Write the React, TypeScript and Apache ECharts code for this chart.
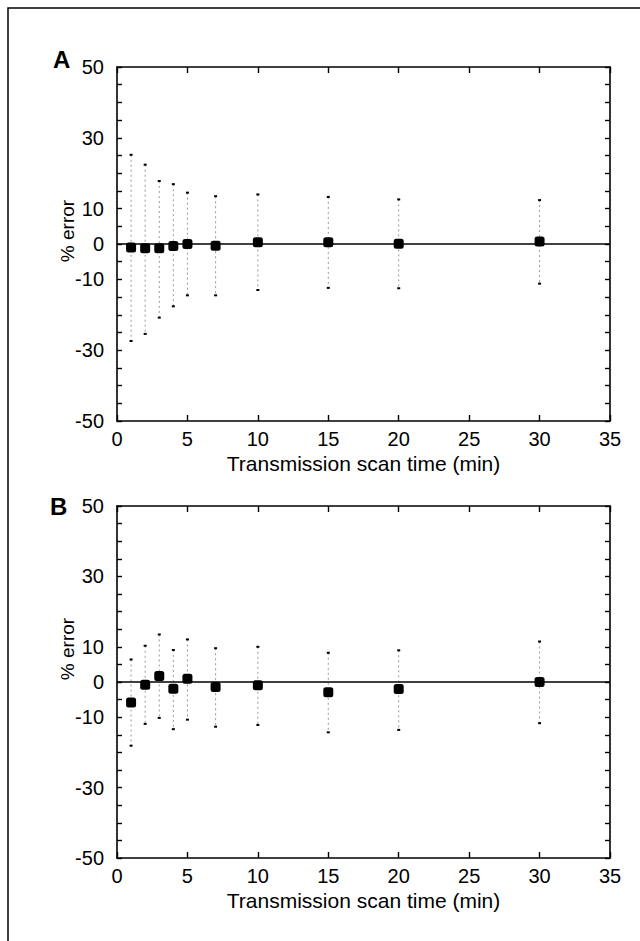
import React, { useEffect, useRef } from "react";
import * as echarts from "echarts";

const xTimes = [1, 2, 3, 4, 5, 7, 10, 15, 20, 30];
const meanA = [-1.0, -1.2, -1.2, -0.6, 0.0, -0.5, 0.5, 0.5, 0.1, 0.7];
const upperA = [25.2, 22.4, 17.8, 16.9, 14.5, 13.5, 14.0, 13.3, 12.6, 12.4];
const lowerA = [-27.4, -25.4, -20.8, -17.6, -14.5, -14.5, -13.0, -12.4, -12.5, -11.2];
const meanB = [-5.8, -0.8, 1.7, -1.9, 0.9, -1.4, -0.9, -2.9, -2.0, 0.0];
const upperB = [6.4, 10.3, 13.5, 9.1, 12.1, 9.6, 10.0, 8.3, 9.0, 11.5];
const lowerB = [-18.1, -11.9, -10.2, -13.4, -10.7, -12.7, -12.2, -14.3, -13.6, -11.7];
const yTickLabels = [50, 30, 10, 0, -10, -30, -50];
const panelLetters = ["A", "B"];
const xTitle = "Transmission scan time (min)";
const yTitle = "% error";

const FONT = "'Liberation Sans', Arial, Helvetica, sans-serif";

export default function App() {
  const ref = useRef<HTMLDivElement>(null);
  useEffect(() => {
    if (!ref.current) return;
    const chart = echarts.init(ref.current, undefined, { renderer: "svg" });
    const grids = [
      { left: 117, top: 67, width: 493, height: 354 },
      { left: 117, top: 506, width: 493, height: 352 },
    ];
    const axisLine = { show: true, lineStyle: { color: "#000", width: 1.6 } };
    const xAxes: any[] = [];
    const yAxes: any[] = [];
    const series: any[] = [];
    const panels = [
      { mean: meanA, upper: upperA, lower: lowerA },
      { mean: meanB, upper: upperB, lower: lowerB },
    ];
    grids.forEach((g, i) => {
      xAxes.push({
        type: "value", gridIndex: i, min: 0, max: 35, interval: 5, position: "bottom",
        axisLine: { ...axisLine, onZero: false },
        axisTick: { show: true, inside: true, length: 6, lineStyle: { color: "#000", width: 1.4 } },
        axisLabel: { show: true, color: "#000", fontFamily: FONT, fontSize: 20, margin: 8 },
        splitLine: { show: false },
        name: xTitle, nameLocation: "middle", nameGap: 32,
        nameTextStyle: { color: "#000", fontFamily: FONT, fontSize: 21 },
      });
      xAxes.push({
        type: "value", gridIndex: i, min: 0, max: 35, interval: 5, position: "top",
        axisLine: { ...axisLine, onZero: false },
        axisTick: { show: true, inside: true, length: 6, lineStyle: { color: "#000", width: 1.4 } },
        axisLabel: { show: false }, splitLine: { show: false },
      });
      yAxes.push({
        type: "value", gridIndex: i, min: -50, max: 50, interval: 5, position: "left",
        axisLine: { ...axisLine, onZero: false },
        axisTick: { show: true, inside: true, length: 5, lineStyle: { color: "#000", width: 1.4 } },
        axisLabel: {
          show: true, color: "#000", fontFamily: FONT, fontSize: 20, margin: 13,
          formatter: (v: number) => (yTickLabels.includes(v) ? String(v) : ""),
        },
        splitLine: { show: false },
      });
      yAxes.push({
        type: "value", gridIndex: i, min: -50, max: 50, interval: 5, position: "right",
        axisLine: { ...axisLine, onZero: false },
        axisTick: { show: true, inside: true, length: 5, lineStyle: { color: "#000", width: 1.4 } },
        axisLabel: { show: false }, splitLine: { show: false },
      });
      const p = panels[i];
      series.push({
        type: "custom",
        xAxisIndex: i * 2, yAxisIndex: i * 2,
        data: xTimes.map((x, k) => [x, p.lower[k], p.upper[k]]),
        renderItem: (params: any, api: any) => {
          const x = api.value(0);
          const lo = api.value(1);
          const hi = api.value(2);
          const a = api.coord([x, hi]);
          const b = api.coord([x, lo]);
          return {
            type: "group",
            children: [
              { type: "line", shape: { x1: a[0], y1: a[1], x2: b[0], y2: b[1] },
                style: { stroke: "#999", lineWidth: 1, lineDash: [2, 3] } },
              { type: "rect", shape: { x: a[0] - 1.5, y: a[1] - 1, width: 3, height: 2 }, style: { fill: "#000" } },
              { type: "rect", shape: { x: b[0] - 1.5, y: b[1] - 1, width: 3, height: 2 }, style: { fill: "#000" } },
            ],
          };
        },
        silent: true,
        z: 2,
      });
      series.push({
        type: "scatter",
        xAxisIndex: i * 2, yAxisIndex: i * 2,
        data: xTimes.map((x, k) => [x, p.mean[k]]),
        symbol: "roundRect", symbolSize: 10,
        itemStyle: { color: "#000", opacity: 1, borderWidth: 0 },
        emphasis: { disabled: true },
        markLine: {
          silent: true, symbol: "none", label: { show: false },
          lineStyle: { color: "#000", width: 1.6, type: "solid", opacity: 1 },
          data: [{ yAxis: 0 }],
        },
        z: 3,
      });
    });
    chart.setOption({
      animation: false,
      backgroundColor: "#fff",
      grid: grids.map((g) => ({ ...g, containLabel: false, outerBoundsMode: "none" })),
      xAxis: xAxes,
      yAxis: yAxes,
      series,
      graphic: [
        { type: "rect", shape: { x: 8, y: 8, width: 700, height: 1000 },
          style: { fill: "none", stroke: "#000", lineWidth: 1.5 }, silent: true },
        { type: "text", x: 53, y: 47, style: { text: panelLetters[0], font: `bold 24px ${FONT}`, fill: "#000" } },
        { type: "text", x: 50, y: 494, style: { text: panelLetters[1], font: `bold 24px ${FONT}`, fill: "#000" } },
        { type: "text", x: 67, y: 231, rotation: Math.PI / 2,
          style: { text: yTitle, font: `19px ${FONT}`, fill: "#000", align: "center", verticalAlign: "middle" } },
        { type: "text", x: 67, y: 649, rotation: Math.PI / 2,
          style: { text: yTitle, font: `19px ${FONT}`, fill: "#000", align: "center", verticalAlign: "middle" } },
      ],
    });
    return () => chart.dispose();
  }, []);
  return (
    <div ref={ref} style={{ position: "absolute", left: 0, top: 0, width: 640, height: 941, background: "#fff" }} />
  );
}
